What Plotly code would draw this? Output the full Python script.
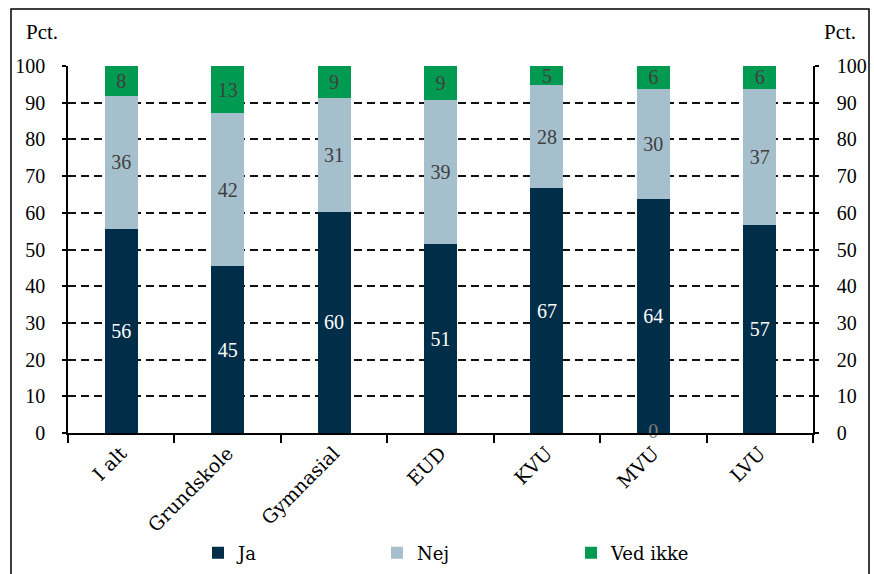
import plotly.graph_objects as go

categories = ["I alt", "Grundskole", "Gymnasial", "EUD", "KVU", "MVU", "LVU"]
ja = [55.6, 45.4, 60.3, 51.4, 66.7, 63.7, 56.6]
nej = [36.3, 41.7, 31.0, 39.4, 28.0, 30.1, 37.2]
ved_ikke = [8.1, 12.9, 8.7, 9.2, 5.3, 6.19, 6.19]
stray_cat = ["MVU"]
stray_val = [0]
yticks = list(range(0, 101, 10))

NUMFONT = "'Liberation Serif', 'Times New Roman', serif"
WORDFONT = "'DejaVu Serif', serif"
W, H = 874, 574
L, R, T, B = 68, 61, 66, 141
PW, PH = W - L - R, H - T - B

def px(x):
    return (x - L) / PW

def py(y):
    return (H - B - y) / PH

fig = go.Figure()
series = [
    ("Ja", ja, "#002d48", "#ffffff", "legend"),
    ("Nej", nej, "#a6bfcd", "#404040", "legend2"),
    ("Ved ikke", ved_ikke, "#009a50", "#404040", "legend3"),
]
for name, vals, col, tcol, lg in series:
    fig.add_trace(go.Bar(
        x=categories, y=vals, name=name,
        marker=dict(color=col, line=dict(width=0)),
        texttemplate="%{y:.0f}", textposition="inside",
        insidetextanchor="middle", textangle=0, constraintext="none",
        textfont=dict(family=NUMFONT, size=20, color=tcol),
        cliponaxis=False,
        legend=lg,
    ))

fig.add_trace(go.Scatter(
    x=stray_cat, y=stray_val, mode="text", text=[str(v) for v in stray_val],
    textposition="middle center", textfont=dict(family=NUMFONT, size=20, color="#808080"),
    showlegend=False, hoverinfo="skip", cliponaxis=False,
))
fig.add_trace(go.Scatter(
    x=categories, y=[None] * len(categories), yaxis="y2", mode="markers",
    showlegend=False, hoverinfo="skip",
))

leg_common = dict(orientation="h", xref="container", yref="container",
                  yanchor="middle", y=1 - 553 / H, xanchor="left",
                  bgcolor="rgba(0,0,0,0)", font=dict(family=WORDFONT, size=18, color="#000"))

fig.update_layout(
    width=W, height=H,
    margin=dict(l=L, r=R, t=T, b=B, pad=0, autoexpand=False),
    barmode="stack", bargap=0.69,
    plot_bgcolor="white", paper_bgcolor="white",
    font=dict(family=NUMFONT, size=19, color="#000"),
    xaxis=dict(
        type="category", range=[-0.5, 6.5], showline=True, linecolor="#000", linewidth=1.5,
        ticks="outside", ticklen=8, tickwidth=1.5, tickcolor="#000", tickson="boundaries",
        tickangle=-45, showgrid=False, automargin=False,
        tickfont=dict(family=WORDFONT, size=19, color="#000"),
    ),
    yaxis=dict(
        range=[0, 100], tickvals=yticks, showline=True, linecolor="#000", linewidth=1.5,
        ticks="outside", ticklen=4, tickwidth=1.5, tickcolor="#000", automargin=False,
        showgrid=True, gridcolor="#111", gridwidth=1.5, griddash="8px,5px",
        zeroline=False, ticklabelstandoff=13, tickfont=dict(family=NUMFONT, size=20, color="#000"),
    ),
    yaxis2=dict(
        range=[0, 100], tickvals=yticks, overlaying="y", side="right", anchor="x",
        showline=True, linecolor="#000", linewidth=1.5, automargin=False,
        ticks="outside", ticklen=4, tickwidth=1.5, tickcolor="#000",
        showgrid=False, zeroline=False, ticklabelstandoff=14,
        tickfont=dict(family=NUMFONT, size=20, color="#000"),
    ),
    legend=dict(x=198 / W, **leg_common),
    legend2=dict(x=377 / W, **leg_common),
    legend3=dict(x=571 / W, **leg_common),
    showlegend=True,
)

fig.add_shape(type="rect", xref="paper", yref="paper",
              x0=px(11), x1=px(869), y0=py(590), y1=py(9),
              line=dict(color="#000", width=1.5), fillcolor="rgba(0,0,0,0)", layer="below")

fig.add_annotation(text="Pct.", xref="paper", yref="paper", x=px(24), y=py(32),
                   xanchor="left", yanchor="middle", showarrow=False,
                   font=dict(family=NUMFONT, size=21, color="#000"))
fig.add_annotation(text="Pct.", xref="paper", yref="paper", x=px(822), y=py(32),
                   xanchor="left", yanchor="middle", showarrow=False,
                   font=dict(family=NUMFONT, size=21, color="#000"))
fig.add_annotation(text="<b>Figur</b>", xref="paper", yref="paper", x=px(116), y=py(-1),
                   xanchor="left", yanchor="bottom", showarrow=False,
                   font=dict(family="'Liberation Sans', Arial, sans-serif", size=24, color="#000"))

fig.write_html("out.html")
